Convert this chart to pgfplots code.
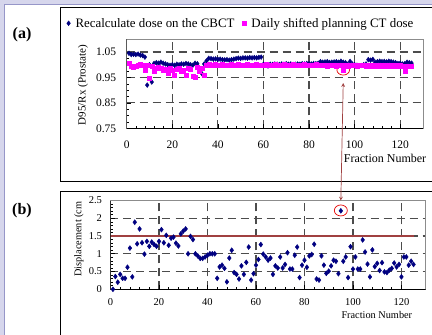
\documentclass[border=0pt]{standalone}
\usepackage{pgfplots}
\pgfplotsset{compat=1.18}
\usepackage{pgfplotstable}
\usepackage{fontspec}
\setmainfont{Liberation Serif}
\definecolor{navy}{RGB}{0,0,128}
\definecolor{pinkm}{RGB}{255,0,255}
\definecolor{darkred}{RGB}{160,64,64}
\definecolor{lav}{RGB}{214,214,236}
\definecolor{lavline}{RGB}{150,150,200}

\pgfplotstableread{
f v
1 1.045
2 1.040
3 1.041
4 1.040
5 1.042
6 1.038
7 1.036
8 1.030
9 0.920
10 1.000
11 0.932
12 1.005
13 1.008
14 1.006
15 1.010
16 1.006
17 1.003
18 1.000
19 0.998
20 1.000
21 0.998
22 1.002
23 1.000
24 1.003
25 1.002
26 1.005
27 1.003
28 1.000
29 0.998
30 1.006
31 1.004
32 0.985
33 0.965
34 1.003
35 1.015
36 1.025
37 1.024
38 1.022
39 1.023
40 1.021
41 1.022
42 1.020
43 1.019
44 1.020
45 1.018
46 1.020
47 1.022
48 1.024
49 1.026
50 1.025
51 1.027
52 1.027
53 1.026
54 1.028
55 1.027
56 1.028
57 1.027
58 1.029
59 1.030
60 1.002
61 0.998
62 0.995
63 1.002
64 1.001
65 1.003
66 1.002
67 1.001
68 1.003
69 1.002
70 1.004
71 1.002
72 1.003
73 1.001
74 1.002
75 1.003
76 1.002
77 1.004
78 1.003
79 1.005
80 1.004
81 1.003
82 1.005
83 1.004
84 1.006
85 1.012
86 1.010
87 1.011
88 1.012
89 1.009
90 1.010
91 1.011
92 1.012
93 1.010
94 1.014
95 1.010
96 1.008
97 1.002
98 1.013
99 1.003
100 1.000
101 0.998
102 0.996
103 0.997
104 1.000
105 1.003
106 1.020
107 1.018
108 1.021
109 1.010
110 1.012
111 1.014
112 1.012
113 1.013
114 1.011
115 1.014
116 1.012
117 1.010
118 1.008
119 1.005
120 1.006
121 1.003
122 1.004
123 1.010
124 1.008
125 1.006
}\cbct

\pgfplotstableread{
f v
1 1.006
2 0.995
3 0.990
4 0.996
5 1.000
6 1.002
7 0.999
8 0.980
9 1.000
10 0.948
11 0.995
12 0.975
13 0.988
14 0.990
15 0.985
16 0.980
17 0.984
18 0.968
19 0.986
20 0.980
21 0.958
22 0.982
23 0.986
24 0.976
25 0.980
26 0.958
27 0.986
28 0.982
29 0.953
30 0.952
31 0.990
32 0.976
33 0.988
34 0.957
35 0.998
36 1.001
37 0.999
38 1.000
39 1.002
40 0.998
41 1.000
42 1.001
43 0.999
44 1.000
45 0.998
46 1.001
47 1.000
48 0.999
49 1.002
50 1.000
51 0.998
52 1.000
53 1.001
54 0.999
55 1.000
56 0.998
57 1.001
58 1.000
59 0.999
60 1.000
61 1.001
62 0.999
63 1.000
64 0.998
65 1.001
66 1.000
67 0.999
68 1.000
69 1.002
70 0.999
71 1.000
72 0.998
73 1.001
74 1.000
75 0.999
76 1.000
77 0.998
78 1.001
79 1.000
80 0.999
81 1.000
82 0.998
83 1.001
84 0.999
85 1.000
86 0.997
87 1.000
88 0.996
89 0.999
90 0.997
91 1.000
92 0.996
93 0.999
94 0.997
95 0.980
96 0.999
97 0.996
98 1.000
99 0.997
100 0.999
101 0.996
102 1.000
103 0.997
104 0.999
105 0.995
106 0.998
107 0.996
108 0.999
109 0.995
110 0.998
111 0.996
112 0.999
113 0.995
114 0.998
115 0.996
116 0.999
117 0.995
118 0.998
119 0.996
120 0.999
121 0.995
122 0.975
123 0.993
124 0.993
125 0.995
}\plct

\pgfplotstableread{
f v
1 0.00
2 0.36
3 0.20
4 0.42
5 0.31
6 0.31
7 0.62
8 1.16
9 0.35
10 1.89
11 1.28
12 1.70
13 1.31
14 0.99
15 1.35
16 1.21
17 1.33
18 1.26
19 1.21
20 1.35
21 1.68
22 1.31
23 1.52
24 1.24
25 1.44
26 1.47
27 1.30
28 1.22
29 1.56
30 1.64
31 1.70
32 1.00
33 1.49
34 1.40
35 1.00
36 0.94
37 0.87
38 0.87
39 0.91
40 0.96
41 1.00
42 1.00
43 1.00
44 0.31
45 0.63
46 0.68
47 0.59
48 0.21
49 0.88
50 1.10
51 0.47
52 0.42
53 0.29
54 0.66
55 0.42
56 0.76
57 1.19
58 0.26
59 0.44
60 0.68
61 0.84
62 1.26
63 0.99
64 0.91
65 0.82
66 0.88
67 0.42
68 0.66
69 0.60
70 0.91
71 0.60
72 0.70
73 1.03
74 0.57
75 0.57
76 0.96
77 1.19
78 0.33
79 0.68
80 0.82
81 0.62
82 0.94
83 0.98
84 1.27
85 0.29
86 0.26
87 0.94
88 0.68
89 0.45
90 0.51
91 0.66
92 0.82
93 0.79
94 0.44
95 2.21
96 0.79
97 0.91
98 0.33
99 1.20
100 0.57
101 0.91
102 0.57
103 0.57
104 1.39
105 1.05
106 0.71
107 0.35
108 1.11
109 0.64
110 0.73
111 0.53
112 0.75
113 0.49
114 0.47
115 0.54
116 0.59
117 0.74
118 0.63
119 0.70
120 0.35
121 0.91
122 0.91
123 0.68
124 0.79
125 0.70
}\disp

\pgfplotsset{
  excel/.style={
    scale only axis,
    xmin=0, xmax=130,
    xtick={0,20,...,120},
    minor x tick num=4,
    axis line style={black!45, line width=0.6pt},
    tick align=inside,
    tick pos=left,
    tick style={black, line width=0.6pt},
    major tick length=4pt,
    minor tick length=2.5pt,
    xmajorgrids, ymajorgrids,
    major grid style={black!70, line width=1.1pt, dash pattern=on 8pt off 5pt},
    /pgf/number format/assume math mode=true,
    scaled ticks=false,
  }
}

\begin{document}
\begin{tikzpicture}
\path[use as bounding box, clip] (0pt,0pt) rectangle (432pt,-335pt);
% slide frame
\fill[lav] (0pt,0pt) rectangle (432pt,-4pt);
\fill[lav] (0pt,0pt) rectangle (4pt,-335pt);
\draw[lavline, line width=1pt] (4.5pt,-335pt) -- (4.5pt,-4.5pt) -- (432pt,-4.5pt);
% panel boxes
\draw[black, line width=0.9pt] (440pt,-7pt) -- (60pt,-7pt) -- (60pt,-181.5pt) -- (440pt,-181.5pt);
\draw[black, line width=0.9pt] (440pt,-191.5pt) -- (60pt,-191.5pt) -- (60pt,-340pt);
\node[font=\bfseries\fontsize{16}{17}\selectfont] at (22pt,-34.5pt) {(a)};
\node[font=\bfseries\fontsize{16}{17}\selectfont] at (22pt,-210.5pt) {(b)};

% ---------- panel (a)
\begin{axis}[excel,
  at={(126.7pt,-128.3pt)}, anchor=south west,
  width=296.3pt, height=89pt,
  ymin=0.75, ymax=1.1,
  ytick={0.75,0.85,0.95,1.05},
  minor y tick num=3,
  ticklabel style={font=\fontsize{11.5}{12}\selectfont},
  xticklabel style={yshift=-9pt},
  yticklabel style={/pgf/number format/fixed, /pgf/number format/fixed zerofill, /pgf/number format/precision=2, xshift=-7pt},
  ylabel={D95/Rx (Prostate)},
  ylabel style={at={(axis description cs:-0.1475,0.487)}, anchor=center, font=\fontsize{11}{12}\selectfont},
  xlabel={Fraction Number},
  xlabel style={at={(axis description cs:0.872,-0.334)}, anchor=center, font=\fontsize{12}{13}\selectfont},
  legend style={at={(axis description cs:-0.207,1.18)}, anchor=west, draw=none, fill=none,
    font=\fontsize{12.9}{13}\selectfont, inner sep=0pt,
    nodes={inner xsep=1pt, inner ysep=1pt},
    /tikz/every even column/.append style={column sep=6pt}},
  legend columns=2,
  legend cell align=left,
  legend image code/.code={\path (-0.1cm,0cm) (0.2cm,0cm); \draw[mark repeat=2,mark phase=2,#1] plot coordinates {(-0.1cm,0cm)(0cm,0cm)(0.1cm,0cm)};},
]
\addplot[only marks, mark=diamond*, mark size=2.4pt, color=navy] table[x=f,y=v] {\cbct};
\addlegendentry{Recalculate dose on the CBCT}
\addplot[only marks, mark=square*, mark size=2pt, color=pinkm] table[x=f,y=v] {\plct};
\addlegendentry{Daily shifted planning CT dose}
\draw[black, line width=1.3pt] (rel axis cs:0,1) -- (rel axis cs:0,0) -- (rel axis cs:1,0);
\draw[red!90!black, line width=0.7pt] (axis cs:95,0.979) ellipse [x radius=6.3pt, y radius=5pt];
\coordinate (arrA) at (axis cs:95,0.928);
\end{axis}

% ---------- panel (b)
\begin{axis}[excel,
  at={(110.5pt,-289.3pt)}, anchor=south west,
  width=315.2pt, height=88.8pt,
  ymin=0, ymax=2.5,
  ytick={0,0.5,...,2.5},
  minor y tick num=4,
  ticklabel style={font=\fontsize{10.5}{12}\selectfont},
  xticklabel style={yshift=-6pt},
  yticklabel style={xshift=-5pt},
  ylabel={Displacement (cm},
  ylabel style={at={(axis description cs:-0.1,0.566)}, anchor=center, font=\fontsize{10.3}{12}\selectfont},
  xlabel={Fraction Number},
  xlabel style={at={(axis description cs:0.845,-0.29)}, anchor=center, font=\fontsize{10.3}{12}\selectfont},
]
\addplot[darkred, line width=2.3pt, forget plot] coordinates {(0,1.5) (125,1.5)};
\addplot[only marks, mark=diamond*, mark size=2.5pt, color=navy] table[x=f,y=v] {\disp};
\draw[black, line width=1.3pt] (rel axis cs:0,1) -- (rel axis cs:0,0) -- (rel axis cs:1,0);
\draw[red!90!black, line width=0.7pt] (axis cs:95,2.22) ellipse [x radius=6.5pt, y radius=5.5pt];
\coordinate (arrB) at (axis cs:95,2.5);
\end{axis}

\draw[darkred, line width=0.7pt, <->, >=stealth] (arrA) -- (arrB);
\end{tikzpicture}
\end{document}
